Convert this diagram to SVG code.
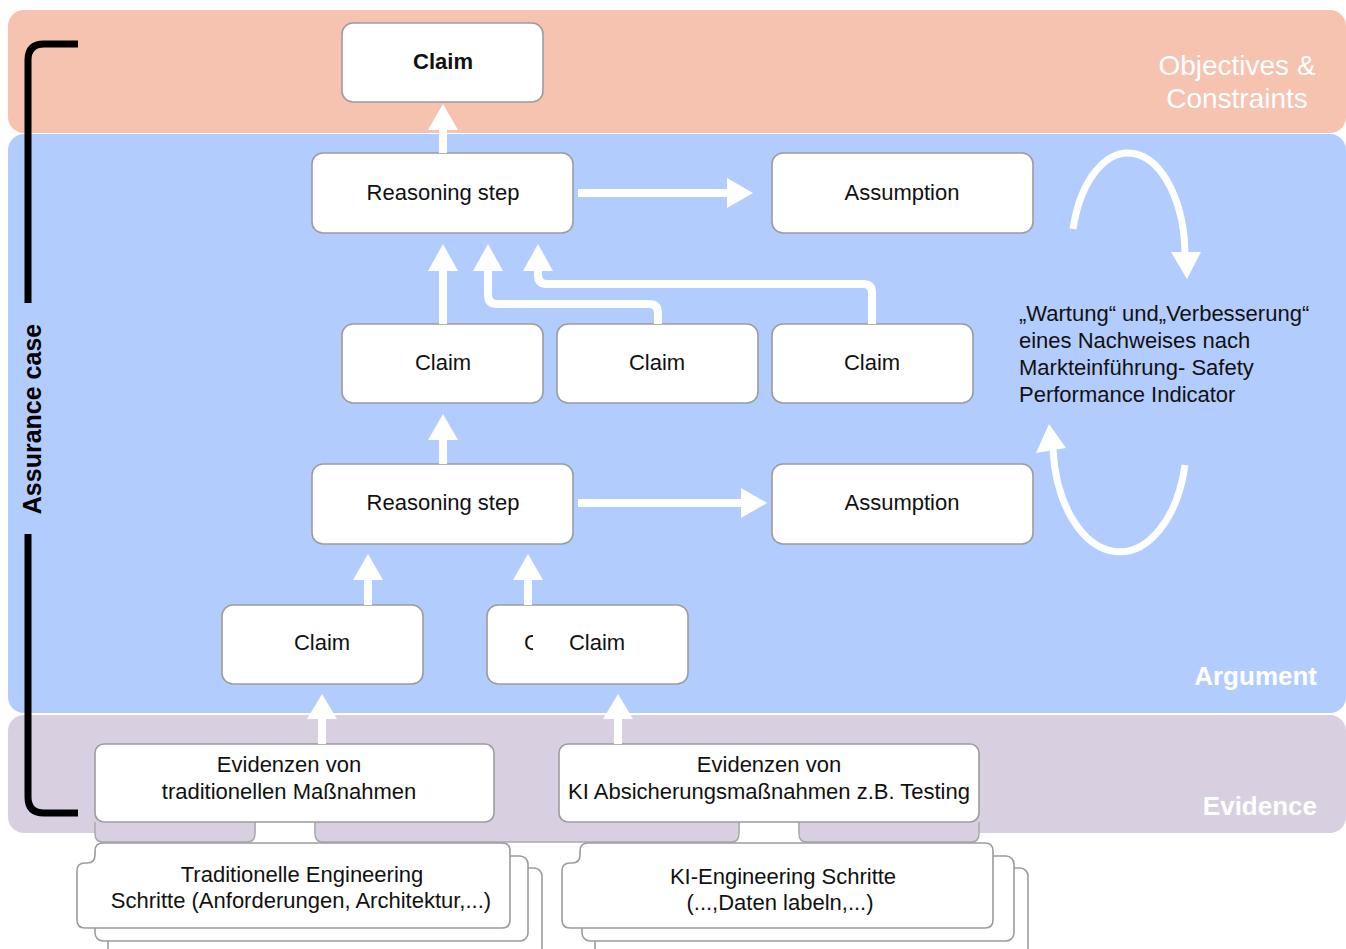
<svg xmlns="http://www.w3.org/2000/svg" width="1346" height="949" viewBox="0 0 1346 949">
<defs>
<style>
.band-label{font-family:"Liberation Sans",Arial,sans-serif;fill:#ffffff;}
.node rect,.node path{fill:#ffffff;stroke:#9c9c9c;stroke-width:1.6;}
.t{font-family:"Liberation Sans",Arial,sans-serif;font-size:22px;fill:#111111;text-anchor:middle;}
.tl{font-family:"Liberation Sans",Arial,sans-serif;font-size:22px;fill:#111111;}
.shaft{fill:none;stroke:#ffffff;stroke-width:8;}
.head{fill:#ffffff;}
.tab{fill:#D8D0E0;stroke:#a8a8a8;stroke-width:1.4;}
</style>
<clipPath id="clipC"><rect x="518" y="625" width="15" height="35"/></clipPath>
</defs>
<rect width="1346" height="949" fill="#ffffff"/>

<g id="bands">
<rect x="8" y="10" width="1338" height="123" rx="16" fill="#F6C3B1"/>
<rect x="8" y="134" width="1338" height="579" rx="16" fill="#B2CCFE"/>
<rect x="8" y="715" width="1338" height="118" rx="16" fill="#D8D0E0"/>
<text class="band-label" x="1237" y="75" font-size="28" text-anchor="middle">Objectives &amp;</text>
<text class="band-label" x="1237" y="108" font-size="28" text-anchor="middle">Constraints</text>
<text class="band-label" x="1317" y="685" font-size="26" font-weight="bold" text-anchor="end">Argument</text>
<text class="band-label" x="1317" y="815" font-size="26" font-weight="bold" text-anchor="end">Evidence</text>
</g>

<g id="assurance-case">
<path d="M78,44 L44,44 Q28,44 28,60 L28,303 M28,534 L28,797 Q28,813 44,813 L78,813" fill="none" stroke="#000000" stroke-width="7"/>
<text x="41" y="419" transform="rotate(-90 41 419)" font-family="'Liberation Sans',Arial,sans-serif" font-size="25" font-weight="bold" fill="#000000" text-anchor="middle">Assurance case</text>
</g>

<g id="tabs">
<path class="tab" d="M95,822 L95,834 Q95,842 103,842 L247,842 Q255,842 255,834 L255,822"/>
<path class="tab" d="M315,822 L315,834 Q315,842 323,842 L731,842 Q739,842 739,834 L739,822"/>
<path class="tab" d="M799,822 L799,834 Q799,842 807,842 L971,842 Q979,842 979,834 L979,822"/>
<rect x="256" y="822" width="58" height="20" fill="#ffffff"/>
<rect x="740" y="822" width="58" height="20" fill="#ffffff"/>
</g>

<g id="doc-traditional" class="node">
<rect x="108" y="868" width="434" height="100" rx="8"/>
<rect x="95" y="856" width="433" height="85" rx="8"/>
<path d="M103,843 L502,843 Q510,843 510,851 L510,920 Q510,928 502,928 L85,928 Q77,928 77,920 L77,871 Q77,863 85,863 L87,863 Q95,863 95,855 L95,851 Q95,843 103,843 Z"/>
<text class="t" x="302" y="882">Traditionelle Engineering</text>
<text class="t" x="301" y="908">Schritte (Anforderungen, Architektur,...)</text>
</g>

<g id="doc-ki" class="node">
<rect x="595" y="868" width="433" height="100" rx="8"/>
<rect x="582" y="856" width="432" height="85" rx="8"/>
<path d="M588,843 L985,843 Q993,843 993,851 L993,920 Q993,928 985,928 L570,928 Q562,928 562,920 L562,871 Q562,863 570,863 L572,863 Q580,863 580,855 L580,851 Q580,843 588,843 Z"/>
<text class="t" x="783" y="884">KI-Engineering Schritte</text>
<text class="t" x="780" y="910">(...,Daten labeln,...)</text>
</g>

<g id="claim-top" class="node">
<rect x="342" y="23" width="201" height="79" rx="11"/>
<text class="t" x="443" y="69" font-weight="bold">Claim</text>
</g>
<g id="reasoning-1" class="node">
<rect x="312" y="153" width="261" height="80" rx="11"/>
<text class="t" x="443" y="200">Reasoning step</text>
</g>
<g id="assumption-1" class="node">
<rect x="772" y="153" width="261" height="80" rx="11"/>
<text class="t" x="902" y="200">Assumption</text>
</g>
<g id="claim-2a" class="node">
<rect x="342" y="324" width="201" height="79" rx="11"/>
<text class="t" x="443" y="370">Claim</text>
</g>
<g id="claim-2b" class="node">
<rect x="557" y="324" width="201" height="79" rx="11"/>
<text class="t" x="657" y="370">Claim</text>
</g>
<g id="claim-2c" class="node">
<rect x="772" y="324" width="201" height="79" rx="11"/>
<text class="t" x="872" y="370">Claim</text>
</g>
<g id="reasoning-2" class="node">
<rect x="312" y="464" width="261" height="80" rx="11"/>
<text class="t" x="443" y="510">Reasoning step</text>
</g>
<g id="assumption-2" class="node">
<rect x="772" y="464" width="261" height="80" rx="11"/>
<text class="t" x="902" y="510">Assumption</text>
</g>
<g id="claim-3a" class="node">
<rect x="222" y="605" width="201" height="79" rx="11"/>
<text class="t" x="322" y="650">Claim</text>
</g>
<g id="claim-3b" class="node">
<rect x="487" y="605" width="201" height="79" rx="11"/>
<text class="tl" x="524" y="650" clip-path="url(#clipC)">C</text>
<text class="t" x="597" y="650">Claim</text>
</g>
<g id="evidence-traditional" class="node">
<rect x="95" y="744" width="399" height="78" rx="9"/>
<text class="t" x="289" y="772">Evidenzen von</text>
<text class="t" x="289" y="799">traditionellen Maßnahmen</text>
</g>
<g id="evidence-ki" class="node">
<rect x="559" y="744" width="420" height="78" rx="9"/>
<text class="t" x="769" y="772">Evidenzen von</text>
<text class="t" x="769" y="799">KI Absicherungsmaßnahmen z.B. Testing</text>
</g>

<g id="maintenance-note">
<text class="tl" x="1019" y="321">„Wartung“ und„Verbesserung“</text>
<text class="tl" x="1019" y="348">eines Nachweises nach</text>
<text class="tl" x="1019" y="375">Markteinführung- Safety</text>
<text class="tl" x="1019" y="402">Performance Indicator</text>
</g>

<g id="connectors">
<path class="shaft" d="M443,153 L443,128"/>
<polygon class="head" points="443,104 458,130 428,130"/>
<path class="shaft" d="M443,324 L443,269"/>
<polygon class="head" points="443,244 458,271 428,271"/>
<path class="shaft" d="M658,324 L658,313 Q658,304 649,304 L497,304 Q488,304 488,295 L488,269"/>
<polygon class="head" points="488,244 503,271 473,271"/>
<path class="shaft" d="M872,324 L872,293 Q872,284 863,284 L547,284 Q538,284 538,275 L538,269"/>
<polygon class="head" points="538,244 553,271 523,271"/>
<path class="shaft" d="M578,193 L729,193"/>
<polygon class="head" points="753,193 727,178 727,208"/>
<path class="shaft" d="M443,464 L443,438"/>
<polygon class="head" points="443,414 458,440 428,440"/>
<path class="shaft" d="M578,503 L743,503"/>
<polygon class="head" points="767,503 741,488 741,518"/>
<path class="shaft" d="M368,605 L368,578"/>
<polygon class="head" points="368,554 383,580 353,580"/>
<path class="shaft" d="M528,605 L528,578"/>
<polygon class="head" points="528,554 543,580 513,580"/>
<path class="shaft" d="M322,744 L322,717"/>
<polygon class="head" points="322,694 337,719 307,719"/>
<path class="shaft" d="M618,744 L618,717"/>
<polygon class="head" points="618,694 633,719 603,719"/>
<path d="M1073,229 A57,103 0 0 1 1185,254" fill="none" stroke="#ffffff" stroke-width="7"/>
<polygon class="head" points="1187,279 1171,252 1201,252"/>
<path d="M1185,465 A67,112 0 0 1 1053,450" fill="none" stroke="#ffffff" stroke-width="7"/>
<polygon class="head" points="1049,424 1066,448 1036,453"/>
</g>
</svg>
